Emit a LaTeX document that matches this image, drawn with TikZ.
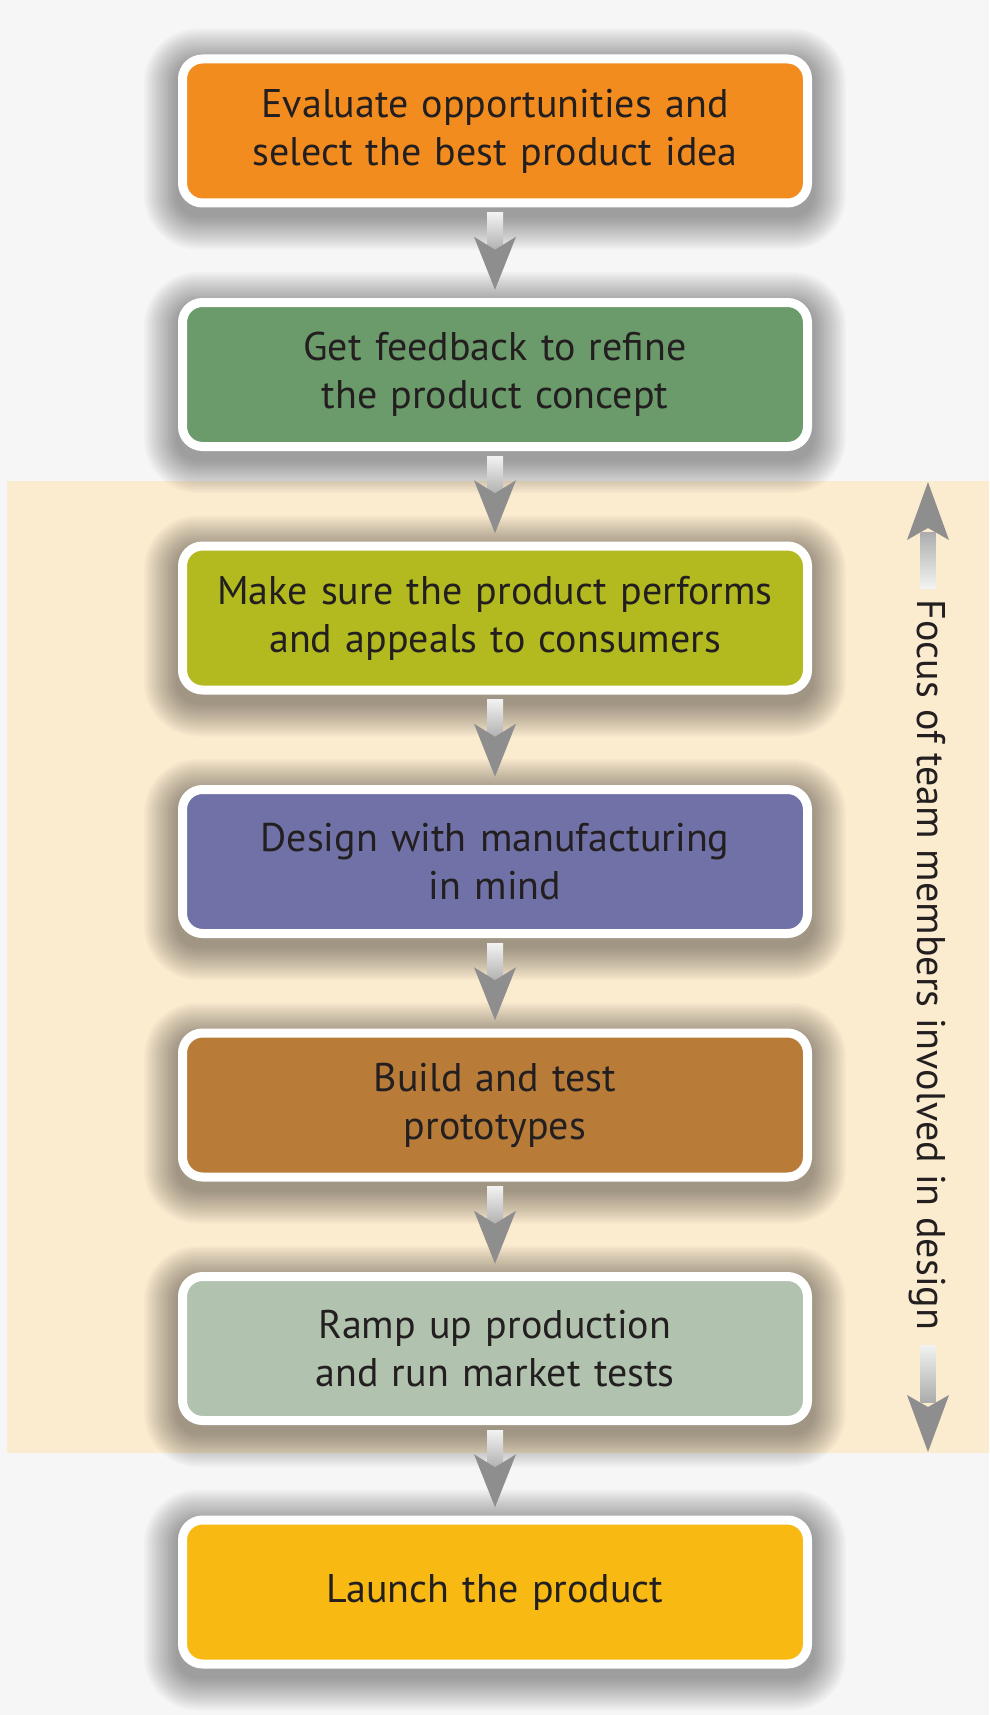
\documentclass[tikz,border=0pt]{standalone}
\usepackage{fontspec}
\setmainfont{PT Sans}
\usetikzlibrary{calc}
\definecolor{bgc}{HTML}{F6F6F6}
\definecolor{beige}{HTML}{FBEBCF}
\definecolor{c1}{HTML}{F28C1F}
\definecolor{c2}{HTML}{6B9A6B}
\definecolor{c3}{HTML}{B2BA1F}
\definecolor{c4}{HTML}{7072A7}
\definecolor{c5}{HTML}{B87C38}
\definecolor{c6}{HTML}{B1C3AF}
\definecolor{c7}{HTML}{F8BA12}
\definecolor{txt}{HTML}{231F20}
\definecolor{headc}{HTML}{8E8E8E}
\pgfdeclarelayer{back}
\pgfdeclarelayer{shad}
\pgfsetlayers{back,shad,main}
\tikzset{
  stepbox/.style={draw=white, line width=9pt, rounded corners=20pt,
    minimum width=625pt, minimum height=144pt, text width=600pt,
    align=center, inner sep=0pt, font=\fontsize{40}{48}\selectfont, text=txt},
  headfill/.style={fill=headc},
  shadowring/.style={fill=black, opacity=0.022},
}
\newcommand\boxshadow[1]{%
  \begin{pgfonlayer}{shad}
  \foreach \e in {2,4,...,34} {
    \pgfmathsetmacro\rr{20+\e}
    \fill[shadowring, rounded corners=\rr pt]
      ($(#1.south west)+(-\e,\e+8)$) rectangle ($(#1.north east)+(\e,-\e+8)$);
  }
  \end{pgfonlayer}}
\newcommand\flowarrow[2]{%
  \coordinate (m#1) at ($(#1.south)!0.5!(#2.north)$);
  \shade[top color=gray!10, bottom color=gray!65]
    ($(#1.south)+(-8,5)$) rectangle ($(m#1)+(8,0)$);
  \fill[headfill] ($(m#1)+(0,37)$) -- ($(m#1)+(-21,-16)$) -- ($(m#1)+(0,-3)$)
    -- ($(m#1)+(21,-16)$) -- cycle;
}
\begin{document}
\begin{tikzpicture}[x=1pt,y=-1pt]
\useasboundingbox (0,0) rectangle (989,1715);
\begin{pgfonlayer}{back}
\fill[bgc] (0,0) rectangle (989,1715);
\fill[beige] (7,481) rectangle (989,1453);
\end{pgfonlayer}

\node[stepbox, fill=c1] (b1) at (495,131) {Evaluate opportunities and\\select the best product idea};
\node[stepbox, fill=c2] (b2) at (495,374.5) {Get feedback to refine\\the product concept};
\node[stepbox, fill=c3] (b3) at (495,618) {Make sure the product performs\\and appeals to consumers};
\node[stepbox, fill=c4] (b4) at (495,861.5) {Design with manufacturing\\in mind};
\node[stepbox, fill=c5] (b5) at (495,1105) {Build and test\\prototypes};
\node[stepbox, fill=c6] (b6) at (495,1348.5) {Ramp up production\\and run market tests};
\node[stepbox, fill=c7] (b7) at (495,1592) {Launch the product};

\boxshadow{b1}
\boxshadow{b2}
\boxshadow{b3}
\boxshadow{b4}
\boxshadow{b5}
\boxshadow{b6}
\boxshadow{b7}

\flowarrow{b1}{b2}
\flowarrow{b2}{b3}
\flowarrow{b3}{b4}
\flowarrow{b4}{b5}
\flowarrow{b5}{b6}
\flowarrow{b6}{b7}

\node[rotate=-90, anchor=base, inner sep=0pt, font=\fontsize{40}{48}\selectfont, text=txt]
  (focus) at (917,965) {Focus of team members involved in design};

\coordinate (upTip) at (928,482);
\coordinate (upEnd) at (928,588);
\coordinate (dnEnd) at (928,1345);
\coordinate (dnTip) at (928,1452);
\shade[top color=gray!65, bottom color=gray!10] ($(upTip)+(-7.5,50)$) rectangle ($(upEnd)+(7.5,0)$);
\fill[headfill] (upTip) -- ($(upTip)+(-21,58)$) -- ($(upTip)+(0,46)$) -- ($(upTip)+(21,58)$) -- cycle;
\shade[top color=gray!10, bottom color=gray!65] ($(dnEnd)+(-7.5,0)$) rectangle ($(dnTip)+(7.5,-50)$);
\fill[headfill] (dnTip) -- ($(dnTip)+(-21,-57)$) -- ($(dnTip)+(0,-45)$) -- ($(dnTip)+(21,-57)$) -- cycle;
\end{tikzpicture}
\end{document}
